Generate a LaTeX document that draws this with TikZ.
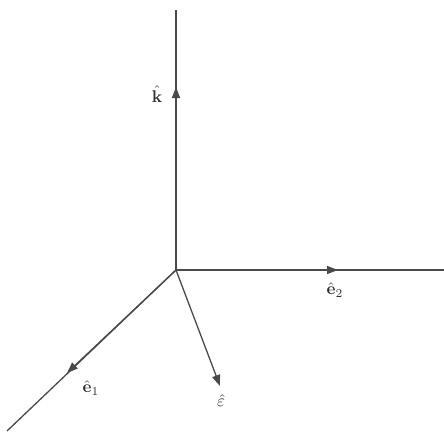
\documentclass[tikz,border=0pt]{standalone}
\usepackage{amsmath}
\usetikzlibrary{arrows.meta}
\definecolor{axis}{HTML}{4A4A4A}
\definecolor{ink}{HTML}{303030}
\tikzset{
  axisline/.style={draw=axis, line width=1.3pt},
  vec/.style={draw=axis, line width=1.3pt, -{Triangle[length=11pt,width=8pt]}},
  lbl/.style={scale=1.7, text=ink, inner sep=0pt}
}
\begin{document}
\begin{tikzpicture}[x=1pt,y=-1pt]
\useasboundingbox (0,0) rectangle (444,431);
\coordinate (O) at (176,270);
\coordinate (top) at (176,10);
\coordinate (right) at (444,270);
\coordinate (bl) at (7,431);
\coordinate (kt) at (176,87);
\coordinate (e2t) at (338,270);
\coordinate (e1t) at (67,373);
\coordinate (epst) at (220,386);
\draw[axisline] (O) -- (top);
\draw[axisline] (O) -- (right);
\draw[axisline] (O) -- (bl);
\draw[vec] (O) -- (kt);
\draw[vec] (O) -- (e2t);
\draw[vec] (O) -- (e1t);
\draw[vec] (O) -- (epst);
\node[lbl] (k) at (157,94) {$\hat{\mathbf{k}}$};
\node[lbl] (e2) at (335,290) {$\hat{\mathbf{e}}_2$};
\node[lbl] (e1) at (91,388) {$\hat{\mathbf{e}}_1$};
\node[lbl] (eps) at (221,401) {$\hat{\varepsilon}$};
\end{tikzpicture}
\end{document}
